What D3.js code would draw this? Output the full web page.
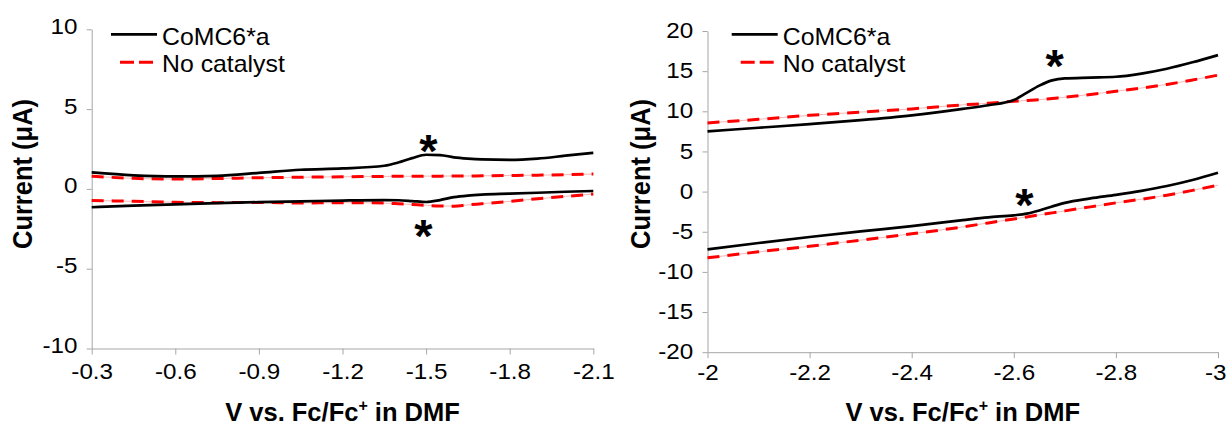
<!DOCTYPE html>
<html>
<head>
<meta charset="utf-8">
<script src="https://cdn.jsdelivr.net/npm/d3@7"></script>
<style>
  body { margin: 0; background: #fff; }
  svg { display: block; }
  text { font-family: "Liberation Sans", Arial, sans-serif; fill: #000; }
</style>
</head>
<body>
<svg id="chart" width="1227" height="427"></svg>
<script>
// ---- Cyclic voltammograms: CoMC6*a vs. blank electrolyte (DMF) ----

const seriesNames = ["CoMC6*a", "No catalyst"];
const xTitle = "V vs. Fc/Fc";
const yTitle = "Current (\u03bcA)";

// Panel A: -0.3 V to -2.1 V
const potentialA = [-0.3, -0.45, -0.6, -0.75, -0.9, -1.05, -1.2, -1.35, -1.4, -1.45,
                    -1.5, -1.55, -1.6, -1.65, -1.7, -1.8, -1.9, -2.0, -2.1];
const catUpperA   = [1.03, 0.85, 0.78, 0.82, 1.0, 1.2, 1.28, 1.45, 1.65, 1.93,
                     2.14, 2.12, 1.98, 1.9, 1.85, 1.82, 1.9, 2.08, 2.26];
const catLowerA   = [-1.15, -1.05, -0.97, -0.89, -0.83, -0.78, -0.73, -0.7, -0.71, -0.76,
                     -0.82, -0.7, -0.52, -0.42, -0.36, -0.3, -0.24, -0.18, -0.13];
const blankUpperA = [0.8, 0.66, 0.62, 0.65, 0.7, 0.73, 0.76, 0.78, 0.79, 0.79,
                     0.8, 0.8, 0.81, 0.81, 0.82, 0.84, 0.86, 0.89, 0.93];
const blankLowerA = [-0.72, -0.78, -0.84, -0.86, -0.85, -0.88, -0.86, -0.89, -0.93, -0.98,
                     -1.03, -1.07, -1.08, -1.0, -0.93, -0.78, -0.62, -0.47, -0.32];
const xTicksA = [-0.3, -0.6, -0.9, -1.2, -1.5, -1.8, -2.1];
const yTicksA = [-10, -5, 0, 5, 10];
const starsA = [[-1.508, 3.06], [-1.49, -2.27]];

// Panel B: -2.0 V to -3.0 V
const potentialB = [-2.0, -2.1, -2.2, -2.3, -2.4, -2.5, -2.55, -2.6, -2.625, -2.65,
                    -2.675, -2.7, -2.75, -2.8, -2.85, -2.9, -2.95, -3.0];
const catUpperB   = [7.5, 7.95, 8.4, 8.9, 9.5, 10.3, 10.75, 11.4, 12.3, 13.2,
                     13.85, 14.1, 14.2, 14.3, 14.7, 15.3, 16.1, 17.0];
const catLowerB   = [-7.2, -6.4, -5.65, -4.95, -4.3, -3.55, -3.2, -2.95, -2.75, -2.35,
                     -1.85, -1.4, -0.85, -0.4, 0.1, 0.7, 1.45, 2.35];
const blankUpperB = [8.55, 9.0, 9.5, 9.9, 10.3, 10.8, 11.0, 11.25, 11.35, 11.45,
                     11.6, 11.75, 12.1, 12.5, 12.9, 13.35, 13.9, 14.5];
const blankLowerB = [-8.25, -7.5, -6.8, -6.05, -5.25, -4.4, -3.9, -3.4, -3.15, -2.9,
                     -2.65, -2.4, -1.9, -1.4, -0.95, -0.45, 0.15, 0.8];
const xTicksB = [-2, -2.2, -2.4, -2.6, -2.8, -3];
const yTicksB = [-20, -15, -10, -5, 0, 5, 10, 15, 20];
const starsB = [[-2.68, 16.96], [-2.621, -0.29]];

const svg = d3.select("#chart");
const AXIS_COLOR = "#a6a6a6";
const TEXT_STRETCH = "scale(1.1,1)";
const SVG_WIDTH = 1227;

function drawPanel(cfg) {
  const x = d3.scaleLinear().domain(cfg.xDomain).range(cfg.xRange);
  const y = d3.scaleLinear().domain(cfg.yDomain).range(cfg.yRange);
  const g = svg.append("g");

  // y axis
  const yAxis = g.append("g")
    .attr("transform", `translate(${cfg.xRange[0]},0)`)
    .call(d3.axisLeft(y).tickValues(cfg.yTicks).tickFormat(d => String(d))
      .tickSize(5).tickSizeOuter(0).tickPadding(8));
  // x axis
  const xAxis = g.append("g")
    .attr("transform", `translate(0,${cfg.yRange[0]})`)
    .call(d3.axisBottom(x).tickValues(cfg.xTicks).tickFormat(d => String(d))
      .tickSize(6).tickSizeOuter(0).tickPadding(cfg.xPad));

  [yAxis, xAxis].forEach(a => {
    a.select(".domain").attr("stroke", AXIS_COLOR);
    a.selectAll(".tick line").attr("stroke", AXIS_COLOR);
    a.selectAll(".tick text")
      .attr("font-family", "Liberation Sans, Arial, sans-serif")
      .attr("font-size", 22)
      .attr("fill", "#000")
      .attr("transform", TEXT_STRETCH);
  });
  yAxis.selectAll(".tick text").attr("dy", cfg.yLabelDy);

  // keep the last x label inside the page when the axis reaches its edge
  xAxis.selectAll(".tick text").each(function (d) {
    const px = x(d);
    if (px + 14 > SVG_WIDTH) {
      d3.select(this).attr("text-anchor", "end").attr("x", (SVG_WIDTH - 1 - px) / 1.1);
    }
  });

  const line = d3.line()
    .x(d => x(d[0]))
    .y(d => y(d[1]))
    .curve(d3.curveMonotoneX);

  const pairs = vals => cfg.potential.map((v, i) => [v, vals[i]]);

  // blank traces: faint underlay plus red dashes
  cfg.blank.forEach(vals => {
    g.append("path").attr("d", line(pairs(vals)))
      .attr("fill", "none").attr("stroke", "#f6b8b8").attr("stroke-width", 1);
    g.append("path").attr("d", line(pairs(vals)))
      .attr("fill", "none").attr("stroke", "#ff0000").attr("stroke-width", 3)
      .attr("stroke-dasharray", "12,8");
  });
  // catalyst traces
  cfg.cat.forEach(vals => {
    g.append("path").attr("d", line(pairs(vals)))
      .attr("fill", "none").attr("stroke", "#000").attr("stroke-width", 2.7);
  });

  // wave markers
  g.selectAll("text.star").data(cfg.stars).join("text")
    .attr("class", "star")
    .attr("x", d => x(d[0]))
    .attr("y", d => y(d[1]) + 27)
    .attr("text-anchor", "middle")
    .attr("font-weight", "bold")
    .attr("font-size", 47)
    .text("*");

  // legend
  const lg = g.append("g");
  lg.append("line").attr("x1", cfg.legendX).attr("x2", cfg.legendX + 46)
    .attr("y1", 34.3).attr("y2", 34.3).attr("stroke", "#000").attr("stroke-width", 2.7);
  lg.append("line").attr("x1", cfg.legendX + 9).attr("x2", cfg.legendX + 43)
    .attr("y1", 62.3).attr("y2", 62.3).attr("stroke", "#ff0000").attr("stroke-width", 3)
    .attr("stroke-dasharray", "14,5");
  seriesNames.forEach((name, i) => {
    lg.append("text")
      .attr("transform", `translate(${cfg.legendX + 51},${45 + i * 27}) scale(1.08,1)`)
      .attr("font-size", 23)
      .text(name);
  });

  // axis titles
  const midX = (cfg.xRange[0] + cfg.xRange[1]) / 2;
  const xt = g.append("text")
    .attr("x", midX).attr("y", 421)
    .attr("text-anchor", "middle")
    .attr("font-weight", "bold")
    .attr("font-size", 25.5);
  xt.append("tspan").text(xTitle);
  xt.append("tspan").attr("dy", -10).attr("font-size", 16).text("+");
  xt.append("tspan").attr("dy", 10).text(" in DMF");

  g.append("text")
    .attr("transform", `translate(${cfg.yTitleX},174) rotate(-90) scale(1,1.08)`)
    .attr("text-anchor", "middle")
    .attr("font-weight", "bold")
    .attr("font-size", 25.5)
    .text(yTitle);
}

drawPanel({
  xDomain: [-0.3, -2.1], xRange: [91.7, 593.3],
  yDomain: [-10, 10], yRange: [348.5, 29.3],
  xTicks: xTicksA, yTicks: yTicksA, xPad: 9,
  yLabelDy: "0.18em",
  potential: potentialA,
  cat: [catUpperA, catLowerA],
  blank: [blankUpperA, blankLowerA],
  stars: starsA,
  legendX: 111, yTitleX: 32
});

drawPanel({
  xDomain: [-2, -3], xRange: [707.5, 1218],
  yDomain: [-20, 20], yRange: [352.2, 31],
  xTicks: xTicksB, yTicks: yTicksB, xPad: 6.5,
  yLabelDy: "0.3em",
  potential: potentialB,
  cat: [catUpperB, catLowerB],
  blank: [blankUpperB, blankLowerB],
  stars: starsB,
  legendX: 731.7, yTitleX: 650
});
</script>
</body>
</html>
